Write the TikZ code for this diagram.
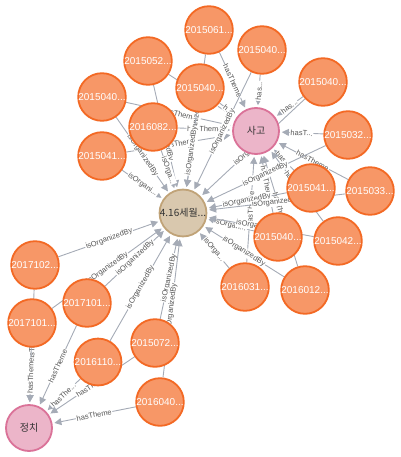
\documentclass[tikz,border=0pt]{standalone}
\usepackage{fontspec}
\setmainfont{Liberation Sans}
\newfontfamily\kr{Noto Sans CJK KR}
\usetikzlibrary{arrows.meta,backgrounds}

\definecolor{orangefill}{HTML}{F79767}
\definecolor{orangeline}{HTML}{F36924}
\definecolor{pinkfill}{HTML}{ECB5C9}
\definecolor{pinkline}{HTML}{DA7298}
\definecolor{tanfill}{HTML}{D9C8AE}
\definecolor{tanline}{HTML}{C0A378}
\definecolor{relline}{HTML}{A5ABB6}
\definecolor{reltext}{HTML}{555555}

\tikzset{
	gnode/.style={circle, minimum size=46pt, inner sep=0pt, line width=1.8pt},
	orangenode/.style={gnode, fill=orangefill, draw=orangeline, text=white, font=\fontsize{10}{10}\selectfont},
	pinknode/.style={gnode, fill=pinkfill, draw=pinkline, text=black!80, font=\kr\fontsize{10}{10}\selectfont},
	tannode/.style={gnode, fill=tanfill, draw=tanline, text=black!80, font=\kr\fontsize{10}{10}\selectfont},
	rel/.style={draw=relline, line width=0.9pt, -{Triangle[width=7pt,length=7pt]}, shorten >=2pt},
	rlabel/.style={midway, sloped, fill=white, inner sep=0.8pt, text=reltext, font=\fontsize{7.5}{7.5}\selectfont}
}

\begin{document}
\begin{tikzpicture}[x=1pt,y=-1pt]
	\useasboundingbox (0,0) rectangle (400,457);
	
	% theme and event nodes
	\node[pinknode] (sago) at (256,131){사고};
	\node[tannode] (sewol) at (183,213){4.16세월...};
	\node[pinknode] (jeongchi) at (29,428){정치};
	
	% article nodes
	\node[orangenode] (d0615) at (209,30){2015061...};
	\node[orangenode] (d0405a) at (262,50){2015040...};
	\node[orangenode] (d0525) at (148,61){2015052...};
	\node[orangenode] (d0405b) at (200,88){2015040...};
	\node[orangenode] (d0405c) at (102,97){2015040...};
	\node[orangenode] (d0820) at (153,127){2016082...};
	\node[orangenode] (d0415a) at (102,156){2015041...};
	\node[orangenode] (d0405d) at (323,82){2015040...};
	\node[orangenode] (d0320) at (348,135){2015032...};
	\node[orangenode] (d0415b) at (311,188){2015041...};
	\node[orangenode] (d0330) at (370,191){2015033...};
	\node[orangenode] (d0405e) at (278,237){2015040...};
	\node[orangenode] (d0420) at (338,241){2015042...};
	\node[orangenode] (d0316) at (245,287){2016031...};
	\node[orangenode] (d0112) at (305,290){2016012...};
	\node[orangenode] (d1026) at (35,265){2017102...};
	\node[orangenode] (d1017a) at (87,303){2017101...};
	\node[orangenode] (d1017b) at (32,323){2017101...};
	\node[orangenode] (d1103) at (98,362){2016110...};
	\node[orangenode] (d0723) at (155,343){2015072...};
	\node[orangenode] (d0406) at (160,402){2016040...};
	
	\begin{scope}[on background layer]
	% hasTheme to 사고
	\draw[rel] (d0615) -- node[rlabel]{hasTheme} (sago);
	\draw[rel] (d0405a) -- node[rlabel]{has...} (sago);
	\draw[rel] (d0525) -- node[rlabel]{hasTheme} (sago);
	\draw[rel] (d0405b) -- node[rlabel]{h...} (sago);
	\draw[rel] (d0405c) -- node[rlabel]{hasTheme} (sago);
	\draw[rel] (d0820) -- node[rlabel]{hasTheme} (sago);
	\draw[rel] (d0415a) -- node[rlabel]{hasTheme} (sago);
	\draw[rel] (d0405d) -- node[rlabel]{has...} (sago);
	\draw[rel] (d0320) -- node[rlabel]{hasT...} (sago);
	\draw[rel] (d0415b) -- node[rlabel]{has...} (sago);
	\draw[rel] (d0330) -- node[rlabel]{hasTheme} (sago);
	\draw[rel] (d0405e) -- node[rlabel]{hasTheme} (sago);
	\draw[rel] (d0420) -- node[rlabel]{hasTheme} (sago);
	\draw[rel] (d0316) -- node[rlabel]{hasTheme} (sago);
	\draw[rel] (d0112) -- node[rlabel]{hasTheme} (sago);
	
	% isOrganizedBy to 4.16
	\draw[rel] (d0615) -- node[rlabel]{isOrganizedBy} (sewol);
	\draw[rel] (d0405a) -- node[rlabel]{isOrganizedBy} (sewol);
	\draw[rel] (d0525) -- node[rlabel]{isOrganizedBy} (sewol);
	\draw[rel] (d0405b) -- node[rlabel]{isOrganizedBy} (sewol);
	\draw[rel] (d0405c) -- node[rlabel]{isOrganizedBy} (sewol);
	\draw[rel] (d0820) -- node[rlabel]{isOrga...} (sewol);
	\draw[rel] (d0415a) -- node[rlabel]{isOrgani...} (sewol);
	\draw[rel] (d0405d) -- node[rlabel]{isOrganizedBy} (sewol);
	\draw[rel] (d0320) -- node[rlabel]{isOrganizedBy} (sewol);
	\draw[rel] (d0415b) -- node[rlabel]{isOrganizedBy} (sewol);
	\draw[rel] (d0330) -- node[rlabel]{isOrganizedBy} (sewol);
	\draw[rel] (d0405e) -- node[rlabel]{isOrgan...} (sewol);
	\draw[rel] (d0420) -- node[rlabel]{isOrganizedBy} (sewol);
	\draw[rel] (d0316) -- node[rlabel]{isOrga...} (sewol);
	\draw[rel] (d0112) -- node[rlabel]{isOrganizedBy} (sewol);
	\draw[rel] (d1026) -- node[rlabel]{isOrganizedBy} (sewol);
	\draw[rel] (d1017a) -- node[rlabel]{isOrganizedBy} (sewol);
	\draw[rel] (d1017b) -- node[rlabel]{isOrganizedBy} (sewol);
	\draw[rel] (d1103) -- node[rlabel]{isOrganizedBy} (sewol);
	\draw[rel] (d0723) -- node[rlabel]{isOrganizedBy} (sewol);
	\draw[rel] (d0406) -- node[rlabel]{isOrganizedBy} (sewol);
	
	% hasTheme to 정치
	\draw[rel] (d1026) -- node[rlabel]{hasTheme} (jeongchi);
	\draw[rel] (d1017a) -- node[rlabel]{hasTheme} (jeongchi);
	\draw[rel] (d1017b) -- node[rlabel]{hasTheme} (jeongchi);
	\draw[rel] (d1103) -- node[rlabel]{hasThe...} (jeongchi);
	\draw[rel] (d0723) -- node[rlabel]{hasTheme} (jeongchi);
	\draw[rel] (d0406) -- node[rlabel]{hasTheme} (jeongchi);
	\end{scope}
	
\end{tikzpicture}
\end{document}
